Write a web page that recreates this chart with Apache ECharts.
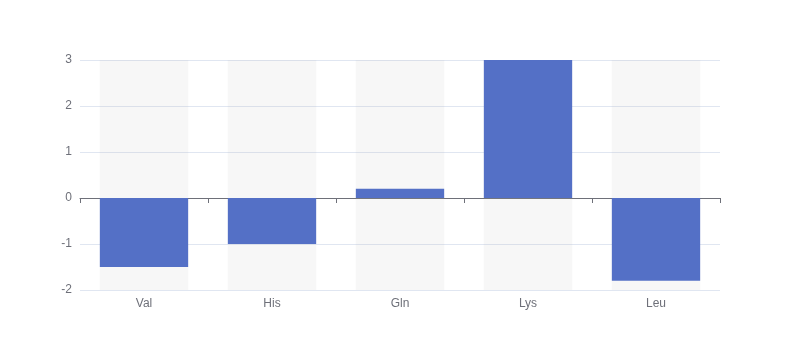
<!DOCTYPE html>
<html>
<head>
<meta charset="utf-8">
<script src="https://cdn.jsdelivr.net/npm/echarts@6/dist/echarts.min.js"></script>
<style>html,body{margin:0;padding:0;background:#fff}#c{width:800px;height:360px}</style>
</head>
<body>
<div id="c"></div>
<script>
var categories = ['Val', 'His', 'Gln', 'Lys', 'Leu'];
var values = [-1.5, -1, 0.2, 3, -1.8];
var yTicks = { min: -2, max: 3, interval: 1 };

var chart = echarts.init(document.getElementById('c'), null, { renderer: 'canvas' });
chart.setOption({
  animation: false,
  grid: { left: 80, right: 80, top: 60, bottom: 70, containLabel: false },
  xAxis: {
    type: 'category',
    data: categories,
    axisLine: { onZero: true, lineStyle: { color: '#6E7079' } },
    axisTick: { show: true },
    axisLabel: { color: '#6E7079', fontSize: 12 }
  },
  yAxis: {
    type: 'value',
    min: yTicks.min,
    max: yTicks.max,
    interval: yTicks.interval,
    axisLabel: { color: '#6E7079', fontSize: 12 },
    splitLine: { lineStyle: { color: '#E0E6F1' } }
  },
  series: [{
    type: 'bar',
    data: values,
    barWidth: '69%',
    showBackground: true,
    backgroundStyle: { color: 'rgba(180,180,180,0.1)' },
    itemStyle: { color: '#5470c6' }
  }]
});
</script>
</body>
</html>
